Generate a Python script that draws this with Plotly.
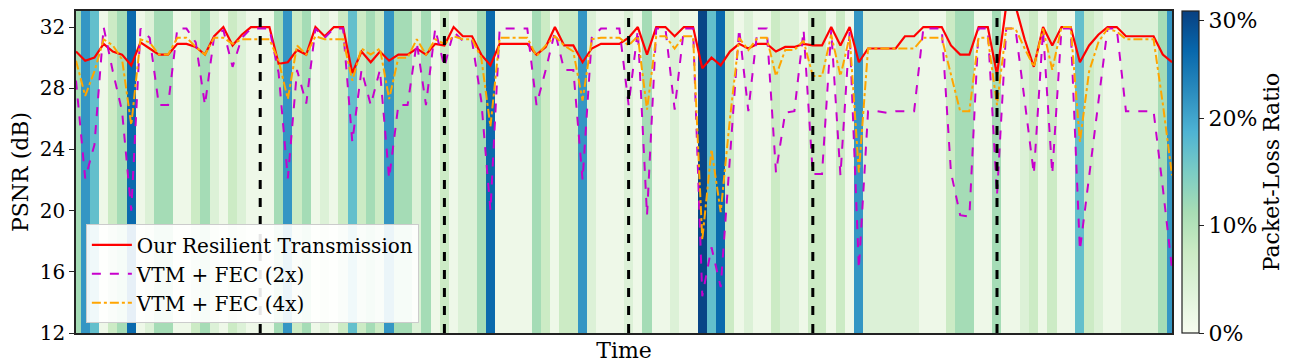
import plotly.graph_objects as go

# packet-loss ratio (%) per time step
loss = [11.5, 21.5, 17, 1.5, 7.5, 11.5, 26, 1.5, 4.5, 11.5,
        11.5, 1.5, 1.5, 7.5, 11.5, 4.5, 1.5, 7.5, 4.5, 1.5,
        1.5, 1.5, 11.5, 21.5, 7.5, 11.5, 1.5, 4.5, 1.5, 7.5,
        17, 7.5, 11.5, 7.5, 21.5, 11.5, 11.5, 4.5, 11.5, 1.5,
        7.5, 1.5, 4.5, 4.5, 11.5, 26, 1.5, 1.5, 1.5, 1.5,
        11.5, 7.5, 1.5, 7.5, 7.5, 21.5, 4.5, 1.5, 1.5, 1.5,
        4.5, 1.5, 11.5, 1.5, 1.5, 4.5, 1.5, 1.5, 29.5, 17,
        26, 7.5, 1.5, 4.5, 1.5, 1.5, 7.5, 4.5, 4.5, 1.5,
        7.5, 7.5, 1.5, 7.5, 1.5, 21.5, 4.5, 4.5, 4.5, 4.5,
        4.5, 4.5, 1.5, 1.5, 1.5, 7.5, 11.5, 11.5, 1.5, 1.5,
        11.5, 1.5, 1.5, 4.5, 7.5, 1.5, 7.5, 1.5, 1.5, 17,
        7.5, 4.5, 1.5, 1.5, 4.5, 4.5, 4.5, 4.5, 11.5, 21.5]

ours = [30.4, 29.8, 30.0, 30.9, 30.4, 30.2, 29.5, 31.0, 30.6, 30.2,
        30.2, 30.9, 30.9, 30.7, 30.2, 31.4, 32.0, 30.8, 31.5, 32.0,
        32.0, 32.0, 29.6, 29.7, 30.5, 30.2, 32.0, 31.4, 32.0, 32.0,
        29.0, 30.4, 29.7, 30.4, 29.8, 30.2, 30.2, 30.6, 30.2, 30.9,
        30.8, 32.0, 31.4, 31.4, 30.2, 29.5, 30.9, 30.9, 30.9, 30.9,
        30.2, 30.7, 32.0, 30.8, 30.8, 29.7, 30.6, 30.9, 30.9, 30.9,
        31.3, 32.0, 30.2, 32.0, 32.0, 31.4, 32.0, 32.0, 29.3, 30.0,
        29.5, 30.4, 30.9, 30.6, 30.9, 30.9, 30.4, 30.7, 30.7, 30.9,
        30.8, 30.8, 32.0, 30.8, 32.0, 29.7, 30.6, 30.6, 30.6, 30.6,
        31.4, 31.4, 32.0, 32.0, 32.0, 30.8, 30.2, 30.2, 32.0, 32.0,
        28.9, 33.4, 33.4, 31.2, 29.4, 32.0, 30.8, 32.0, 32.0, 29.7,
        30.8, 31.5, 32.0, 32.0, 31.4, 31.4, 31.4, 31.4, 30.2, 29.7]

fec2 = [28.5, 22.1, 24.3, 32.0, 29.1, 26.5, 20.0, 31.9, 31.3, 26.9,
        26.9, 31.9, 31.9, 31.0, 26.9, 31.4, 31.8, 29.4, 31.3, 31.9,
        31.9, 31.9, 29.0, 22.1, 29.2, 27.0, 31.9, 31.3, 31.9, 31.9,
        24.5, 29.2, 26.9, 29.2, 22.1, 26.9, 26.9, 31.0, 26.9, 31.9,
        29.4, 31.7, 31.1, 31.1, 27.2, 20.0, 31.9, 31.9, 31.9, 31.9,
        26.9, 29.2, 31.7, 29.2, 29.2, 22.0, 31.3, 31.9, 31.9, 31.9,
        26.9, 31.8, 19.7, 31.9, 31.9, 26.6, 31.9, 31.9, 14.4, 17.6,
        15.0, 23.5, 31.9, 26.5, 31.9, 31.9, 22.5, 26.4, 26.5, 31.8,
        22.4, 22.4, 31.8, 22.3, 31.7, 16.2, 26.5, 26.5, 26.4, 26.5,
        26.5, 26.5, 31.9, 31.9, 31.9, 22.5, 19.7, 19.6, 31.9, 31.9,
        21.0, 31.9, 31.9, 27.2, 22.4, 31.8, 22.4, 31.9, 31.9, 17.4,
        22.2, 27.1, 31.9, 31.9, 26.5, 26.5, 26.5, 26.5, 21.5, 16.2]

fec4 = [29.8, 27.5, 29.1, 31.2, 30.8, 29.9, 25.6, 31.2, 31.0, 30.2,
        30.2, 31.3, 31.3, 30.7, 30.2, 31.3, 31.3, 30.9, 31.2, 31.2,
        31.2, 31.2, 29.8, 27.3, 30.8, 30.2, 31.4, 31.2, 31.2, 31.2,
        28.5, 30.6, 30.2, 30.6, 27.3, 30.0, 30.0, 31.2, 30.2, 31.2,
        30.9, 31.4, 31.2, 31.2, 30.0, 25.5, 31.3, 31.3, 31.3, 31.3,
        30.1, 30.8, 31.4, 30.8, 30.4, 27.2, 31.2, 31.3, 31.3, 31.3,
        30.8, 31.4, 26.6, 31.4, 31.4, 30.6, 31.4, 31.4, 18.1, 24.0,
        19.9, 26.0, 31.3, 30.5, 31.3, 31.3, 28.8, 30.5, 30.5, 31.1,
        28.8, 28.8, 31.5, 28.8, 31.4, 22.5, 30.6, 30.6, 30.6, 30.6,
        30.6, 30.6, 31.3, 31.3, 31.3, 28.9, 26.5, 26.5, 31.3, 31.3,
        26.9, 31.9, 31.9, 30.6, 29.4, 31.9, 29.2, 32.0, 32.0, 24.5,
        29.1, 31.0, 31.9, 31.7, 31.2, 31.2, 31.2, 31.2, 27.0, 22.3]

scene_cuts = [20, 40, 60, 80, 100]
y_ticks = [12, 16, 20, 24, 28, 32]
cbar_ticks = [0, 10, 20, 30]
cbar_labels = ["0%", "10%", "20%", "30%"]

t = list(range(len(ours)))
FONT = "DejaVu Serif"

fig = go.Figure()

# background bands coloured by packet-loss ratio
fig.add_trace(go.Heatmap(
    x=t, y=[12, 33.5], z=[loss],
    colorscale="GnBu", zmin=0, zmax=30,
    showscale=True,
    colorbar=dict(
        x=1.0091, xanchor="left", y=0, yanchor="bottom", xpad=0, ypad=0,
        len=1, lenmode="fraction", thickness=17,
        outlinecolor="#222", outlinewidth=1.2,
        # top tick pulled down so its label stays inside the page
        tickvals=[v - 0.9 if v == 30 else v for v in cbar_ticks], ticktext=cbar_labels,
        ticklabeloverflow="allow",
        ticks="outside", ticklen=5, tickwidth=1.2, tickcolor="#222",
        tickfont=dict(family=FONT, size=22, color="black"),
        title=dict(text="Packet-Loss Ratio", side="right",
                   font=dict(family=FONT, size=22, color="black")),
    ),
    hoverinfo="skip", showlegend=False,
))

fig.add_trace(go.Scatter(x=t, y=ours, mode="lines", name="Our Resilient Transmission",
                         line=dict(color="#ff0000", width=2.2)))
fig.add_trace(go.Scatter(x=t, y=fec2, mode="lines", name="VTM + FEC (2x)",
                         line=dict(color="#c800cc", width=2, dash="dash")))
fig.add_trace(go.Scatter(x=t, y=fec4, mode="lines", name="VTM + FEC (4x)",
                         line=dict(color="#ffa500", width=2, dash="dashdot")))

for c in scene_cuts:
    fig.add_shape(type="line", x0=c, x1=c, y0=0, y1=1, xref="x", yref="paper",
                  line=dict(color="black", width=3, dash="dash"), layer="above")

# the page body adds 8px on the left and top, so margins are shifted by that much
fig.update_layout(
    width=1291, height=363,
    margin=dict(l=68, r=127, t=3, b=38, autoexpand=False),
    paper_bgcolor="white", plot_bgcolor="white",
    font=dict(family=FONT, size=20, color="black"),
    showlegend=True,
    legend=dict(x=0.009, y=0.03, xanchor="left", yanchor="bottom", itemwidth=40,
                bgcolor="rgba(255,255,255,0.9)", bordercolor="#cccccc", borderwidth=1,
                font=dict(family=FONT, size=20), tracegroupgap=0),
)
fig.update_xaxes(range=[0, 119], showticklabels=False, ticks="", showgrid=False, zeroline=False,
                 showline=True, linecolor="#222", linewidth=1.5, mirror=True, automargin=False,
                 title=dict(text="Time", standoff=9, font=dict(family=FONT, size=22)))
fig.update_yaxes(range=[12, 33.05], tickvals=y_ticks, ticks="outside", ticklen=5, tickwidth=1.2,
                 tickcolor="#222", showgrid=False, zeroline=False, automargin=False,
                 showline=True, linecolor="#222", linewidth=1.5, mirror=True,
                 tickfont=dict(family=FONT, size=20), ticklabeloverflow="allow",
                 title=dict(text="PSNR (dB)", standoff=8, font=dict(family=FONT, size=22)))

fig.write_html("out.html")
